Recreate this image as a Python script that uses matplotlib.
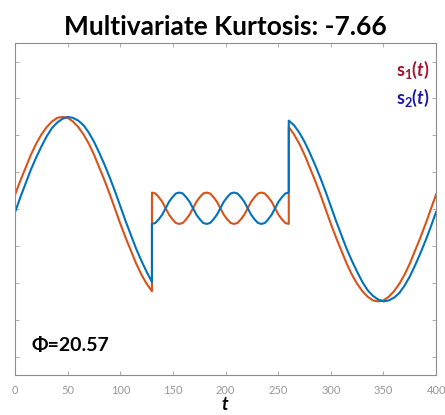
import numpy as np
import matplotlib.pyplot as plt

plt.rcParams['font.family'] = ['Lato', 'DejaVu Sans']
plt.rcParams['mathtext.fontset'] = 'custom'
plt.rcParams['mathtext.bf'] = 'Lato:bold'
plt.rcParams['mathtext.it'] = 'Lato:bold:italic'
plt.rcParams['mathtext.rm'] = 'Lato:bold'

# sample times for the three parts of the signals
t_seg1 = np.arange(0, 131, 5)
t_mid = np.linspace(130, 260, 41)
t_seg3 = np.arange(260, 401, 5)

# s1(t) (orange)
s1_seg1 = [0.16, 0.31, 0.45, 0.59, 0.71, 0.81, 0.89, 0.95, 0.99, 1.00, 0.99, 0.95, 0.89, 0.81,
           0.71, 0.59, 0.45, 0.31, 0.16, 0.00, -0.16, -0.31, -0.45, -0.59, -0.71, -0.81, -0.89]
s1_mid = [0.18, 0.17, 0.13, 0.08, 0.01, -0.06, -0.11, -0.15, -0.16, -0.15, -0.11, -0.06, 0.01, 0.08, 0.13, 0.17,
          0.18, 0.17, 0.13, 0.08, 0.01, -0.06, -0.11, -0.15, -0.16, -0.15, -0.11, -0.06, 0.01, 0.08, 0.13, 0.17,
          0.18, 0.17, 0.13, 0.08, 0.01, -0.06, -0.11, -0.15, -0.16]
s1_seg3 = [0.89, 0.81, 0.71, 0.59, 0.45, 0.31, 0.16, 0.00, -0.16, -0.31, -0.45, -0.59, -0.71, -0.81, -0.89,
           -0.95, -0.99, -1.00, -0.99, -0.95, -0.89, -0.81, -0.71, -0.59, -0.45, -0.31, -0.16, 0.00, 0.16]

# s2(t) (blue)
s2_seg1 = [-0.03, 0.13, 0.28, 0.43, 0.56, 0.68, 0.79, 0.88, 0.94, 0.98, 1.00, 0.99, 0.96, 0.91,
           0.83, 0.73, 0.61, 0.48, 0.34, 0.19, 0.03, -0.13, -0.28, -0.43, -0.56, -0.68, -0.79]
s2_mid = [-0.16, -0.15, -0.11, -0.06, 0.01, 0.08, 0.13, 0.17, 0.18, 0.17, 0.13, 0.08, 0.01, -0.06, -0.11, -0.15,
          -0.16, -0.15, -0.11, -0.06, 0.01, 0.08, 0.13, 0.17, 0.18, 0.17, 0.13, 0.08, 0.01, -0.06, -0.11, -0.15,
          -0.16, -0.15, -0.11, -0.06, 0.01, 0.08, 0.13, 0.17, 0.18]
s2_seg3 = [0.96, 0.91, 0.83, 0.73, 0.61, 0.48, 0.34, 0.19, 0.03, -0.13, -0.28, -0.43, -0.56, -0.68, -0.79,
           -0.88, -0.94, -0.98, -1.00, -0.99, -0.96, -0.91, -0.83, -0.73, -0.61, -0.48, -0.34, -0.19, -0.03]

kurtosis = -7.66
phi = 20.57

t = np.concatenate([t_seg1, t_mid, t_seg3])
s1 = np.concatenate([s1_seg1, s1_mid, s1_seg3])
s2 = np.concatenate([s2_seg1, s2_mid, s2_seg3])

fig = plt.figure(figsize=(4.45, 4.15), dpi=100)
ax = fig.add_axes([0.034, 0.096, 0.946, 0.80])

ax.plot(t, s1, color='#D95319', lw=1.5)
ax.plot(t, s2, color='#0072BD', lw=1.5)

ax.set_xlim(0, 400)
ax.set_ylim(-1.8, 1.8)
ax.set_xticks(np.arange(0, 401, 50))
ax.set_yticks(np.arange(-1.6, 1.61, 0.4))
ax.set_yticklabels([])
ax.tick_params(direction='in', length=3, width=0.6, colors='#a0a0a0',
               top=True, right=True, labelsize=8, labelcolor='#999999', pad=7)
for sp in ax.spines.values():
    sp.set_color('#8c8c8c')
    sp.set_linewidth(0.8)

ax.set_title('Multivariate Kurtosis: %.2f' % kurtosis, fontsize=19, fontweight='bold', pad=6)
ax.set_xlabel(r'$\mathit{t}$', fontsize=13, labelpad=0)

ax.text(0.985, 0.92, r'$\mathbf{s_1(}\mathit{t}\mathbf{)}$', transform=ax.transAxes,
        ha='right', va='center', fontsize=13, color='#A2142F')
ax.text(0.985, 0.835, r'$\mathbf{s_2(}\mathit{t}\mathbf{)}$', transform=ax.transAxes,
        ha='right', va='center', fontsize=13, color='#1A1AA6')
ax.text(0.04, 0.088, '\u03a6=%.2f' % phi, transform=ax.transAxes,
        ha='left', va='center', fontsize=14, fontweight='bold', color='black')

fig.savefig('out.png', dpi=100)
